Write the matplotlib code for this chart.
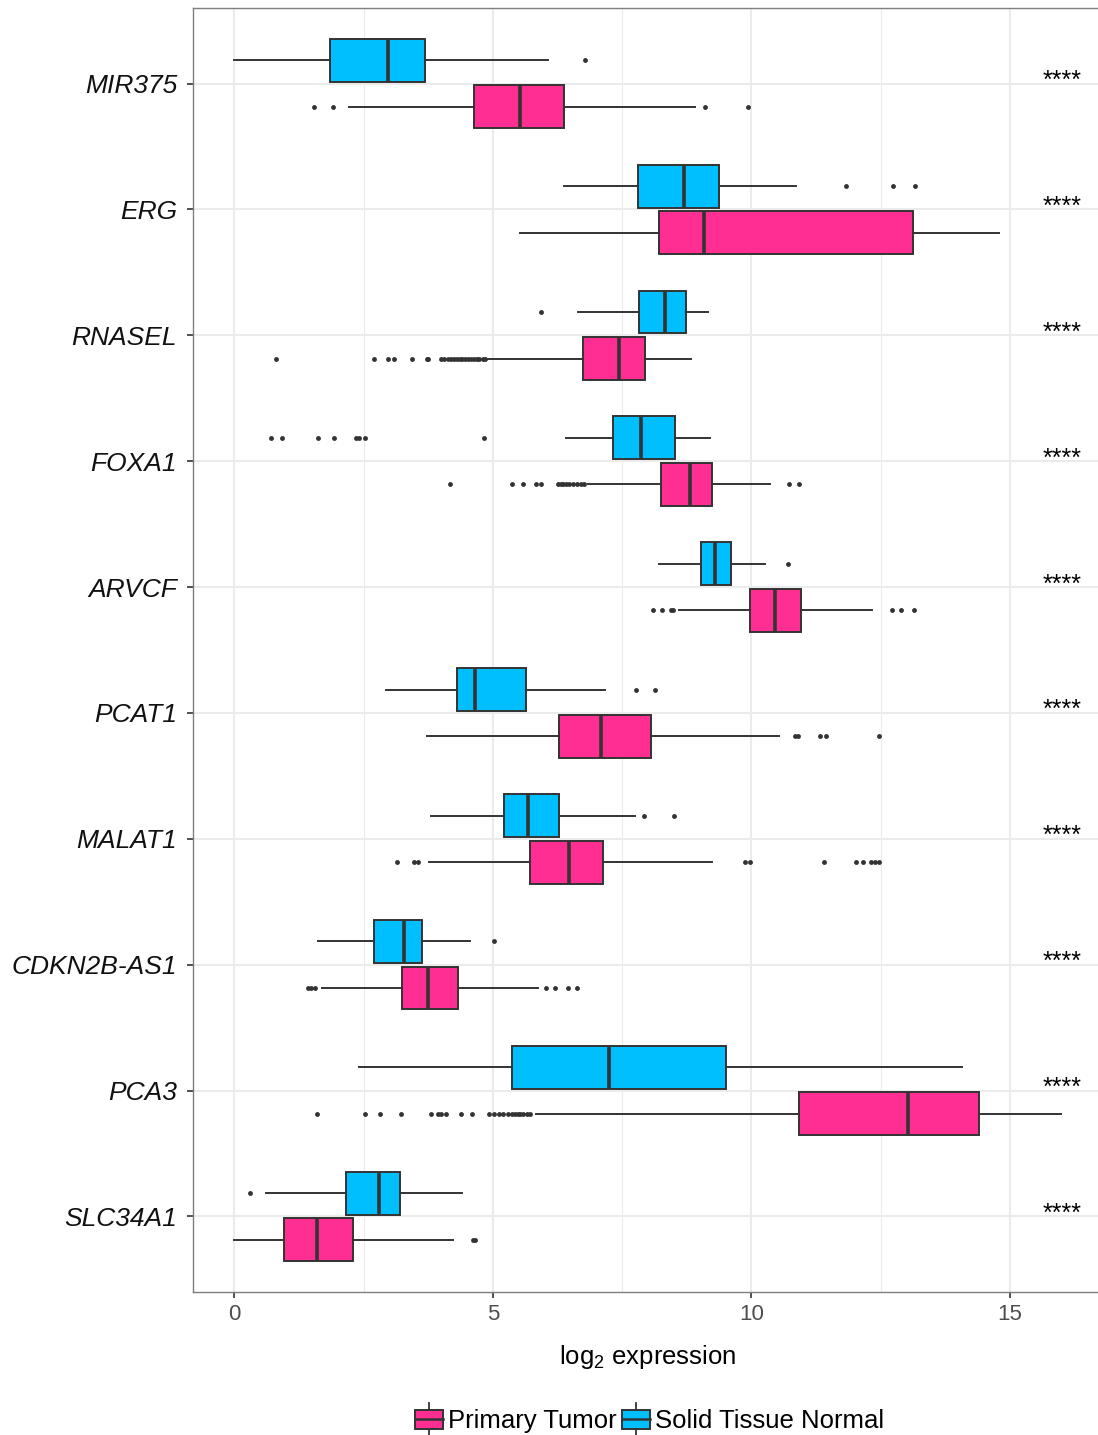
import matplotlib
matplotlib.use("Agg")
import matplotlib.pyplot as plt
from matplotlib.legend_handler import HandlerBase
from matplotlib.patches import Rectangle
from matplotlib.lines import Line2D

plt.rcParams["font.family"] = ["Liberation Sans", "DejaVu Sans"]
plt.rcParams["mathtext.default"] = "regular"

genes = ["MIR375", "ERG", "RNASEL", "FOXA1", "ARVCF",
         "PCAT1", "MALAT1", "CDKN2B-AS1", "PCA3", "SLC34A1"]
signif = ["****"] * len(genes)

# Solid Tissue Normal: whisker low, Q1, median, Q3, whisker high, outliers
normal_lo = [0.00, 6.37, 6.64, 6.42, 8.22, 2.94, 3.80, 1.61, 2.42, 0.62]
normal_q1 = [1.85, 7.80, 7.83, 7.33, 9.03, 4.30, 5.22, 2.71, 5.37, 2.15]
normal_med = [2.98, 8.70, 8.33, 7.86, 9.29, 4.65, 5.67, 3.28, 7.24, 2.80]
normal_q3 = [3.69, 9.37, 8.73, 8.53, 9.61, 5.65, 6.28, 3.62, 9.51, 3.21]
normal_hi = [6.07, 10.86, 9.16, 9.20, 10.27, 7.17, 7.74, 4.56, 14.07, 4.41]
normal_out = [
    [6.78],
    [11.82, 12.74, 13.16],
    [5.94],
    [0.71, 0.93, 1.61, 1.93, 2.35, 2.42, 2.52, 4.82],
    [10.70],
    [7.77, 8.14],
    [7.93, 8.50],
    [5.03],
    [],
    [0.31],
]

# Primary Tumor
tumor_lo = [2.22, 5.53, 4.91, 6.84, 8.60, 3.72, 3.77, 1.70, 5.84, 0.00]
tumor_q1 = [4.64, 8.21, 6.74, 8.26, 9.97, 6.28, 5.72, 3.24, 10.92, 0.96]
tumor_med = [5.52, 9.09, 7.43, 8.81, 10.45, 7.10, 6.48, 3.74, 13.03, 1.60]
tumor_q3 = [6.37, 13.12, 7.95, 9.23, 10.96, 8.05, 7.13, 4.33, 14.41, 2.30]
tumor_hi = [8.90, 14.78, 8.83, 10.35, 12.34, 10.53, 9.23, 5.87, 15.99, 4.22]
tumor_out = [
    [1.54, 1.91, 9.11, 9.93],
    [],
    [0.80, 2.71, 2.98, 3.09, 3.43, 3.72, 3.75, 4.00, 4.05, 4.14, 4.19, 4.25,
     4.30, 4.36, 4.41, 4.47, 4.52, 4.58, 4.63, 4.69, 4.74, 4.80, 4.85],
    [4.17, 5.36, 5.59, 5.84, 5.93, 6.26, 6.31, 6.36, 6.42, 6.48, 6.55, 6.62,
     6.70, 6.77, 10.72, 10.92],
    [8.09, 8.28, 8.45, 8.49, 12.71, 12.89, 13.14],
    [10.84, 10.91, 11.33, 11.45, 12.47],
    [3.14, 3.48, 3.56, 9.88, 9.97, 11.40, 12.03, 12.16, 12.32, 12.39, 12.46],
    [1.43, 1.49, 1.56, 6.02, 6.20, 6.45, 6.63],
    [1.60, 2.52, 2.81, 3.22, 3.80, 3.94, 4.00, 4.10, 4.38, 4.59, 4.92, 5.02,
     5.11, 5.20, 5.30, 5.36, 5.42, 5.48, 5.53, 5.59, 5.66, 5.72],
    [4.62, 4.66],
]

TUMOR_COLOR = "#FF2E92"
NORMAL_COLOR = "#00BFFF"
EDGE = "#333333"


def make_stats(lo, q1, med, q3, hi, out):
    return [
        {"whislo": a, "q1": b, "med": c, "q3": d, "whishi": e, "fliers": f}
        for a, b, c, d, e, f in zip(lo, q1, med, q3, hi, out)
    ]


class BoxKeyHandler(HandlerBase):
    """Legend key drawn as a small vertical boxplot glyph."""

    def create_artists(self, legend, orig_handle, xdescent, ydescent,
                       width, height, fontsize, trans):
        x0, y0 = -xdescent, -ydescent
        cx = x0 + width / 2
        cy = y0 + height / 2
        bh = 0.76 * fontsize
        stub = 0.62 * fontsize
        box = Rectangle((x0, cy - bh / 2), width, bh,
                        facecolor=orig_handle.get_facecolor(),
                        edgecolor=EDGE, linewidth=1.4, transform=trans)
        med = Line2D([x0, x0 + width], [cy, cy], color=EDGE, lw=1.8,
                     transform=trans)
        whisk = Line2D([cx, cx], [cy - stub, cy + stub], color=EDGE, lw=1.3,
                       transform=trans)
        return [whisk, box, med]


fig = plt.figure(figsize=(10.98, 14.35), dpi=100)
ax = fig.add_axes([193 / 1098, 143 / 1435, 910 / 1098, 1284 / 1435])

pos = list(range(len(genes)))
off = 0.185
common = dict(
    vert=False, widths=0.34, patch_artist=True, showcaps=False,
    medianprops=dict(color=EDGE, linewidth=2.6, solid_capstyle="butt"),
    whiskerprops=dict(color=EDGE, linewidth=1.4),
    flierprops=dict(marker="o", markersize=3.5, markerfacecolor=EDGE,
                    markeredgecolor="none"),
)

bn = ax.bxp(make_stats(normal_lo, normal_q1, normal_med, normal_q3,
                       normal_hi, normal_out),
            positions=[p - off for p in pos],
            boxprops=dict(facecolor=NORMAL_COLOR, edgecolor=EDGE,
                          linewidth=1.4), **common)
bt = ax.bxp(make_stats(tumor_lo, tumor_q1, tumor_med, tumor_q3,
                       tumor_hi, tumor_out),
            positions=[p + off for p in pos],
            boxprops=dict(facecolor=TUMOR_COLOR, edgecolor=EDGE,
                          linewidth=1.4), **common)

for p, s in zip(pos, signif):
    ax.text(16.0, p + 0.035, s, ha="center", va="baseline", fontsize=18,
            color="black")

ax.set_xlim(-0.8, 16.8)
ax.set_ylim(len(genes) - 0.4, -0.6)
ax.set_xticks([0, 5, 10, 15])
ax.set_xticks([2.5, 7.5, 12.5], minor=True)
ax.set_yticks(pos)
ax.set_yticklabels(genes, fontstyle="italic", fontsize=19, color="#111111")
ax.tick_params(axis="x", which="major", labelsize=16, labelcolor="#4D4D4D",
               length=4.5, width=1.2, color="#333333", pad=4)
ax.tick_params(axis="x", which="minor", length=0)
ax.tick_params(axis="y", length=4.5, width=1.2, color="#333333", pad=7)

ax.grid(True, which="major", color="#EBEBEB", linewidth=1.5)
ax.grid(True, which="minor", axis="x", color="#EBEBEB", linewidth=0.8)
ax.set_axisbelow(True)
for sp in ax.spines.values():
    sp.set_color("#7F7F7F")
    sp.set_linewidth(1.0)

ax.set_xlabel("log$_2$ expression", fontsize=18.5, labelpad=13)

handles = [Rectangle((0, 0), 1, 1, facecolor=TUMOR_COLOR),
           Rectangle((0, 0), 1, 1, facecolor=NORMAL_COLOR)]
fig.legend(handles, ["Primary Tumor", "Solid Tissue Normal"],
           loc="center", bbox_to_anchor=(0.5915, 0.0095), ncol=2,
           frameon=False, fontsize=18.5, handlelength=1.1,
           handletextpad=0.2, columnspacing=0.2,
           handler_map={Rectangle: BoxKeyHandler()})

fig.savefig("out.png", dpi=100)
